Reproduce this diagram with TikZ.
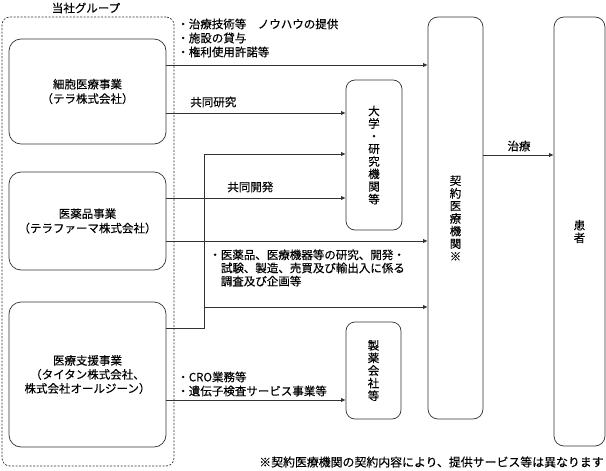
\documentclass[tikz,border=0pt]{standalone}
\usepackage{fontspec}
\setmainfont{Noto Sans CJK JP}[FakeBold=0.3]
\usetikzlibrary{arrows.meta}
\newcommand\bizfont{\fontsize{11.5}{14.5}\selectfont}
\newcommand\tatefont{\fontsize{11.5}{12.6}\selectfont}
\tikzstyle{biz} = [draw=black!80, rounded corners=12pt, minimum width=157pt, align=center, font=\bizfont]
\tikzstyle{tall} = [draw=black!80, rounded corners=9pt, align=center, inner sep=0pt, font=\tatefont]
\tikzstyle{grp} = [draw=black!80, rounded corners=8pt, dash pattern=on 2pt off 1.5pt, minimum width=172pt, minimum height=449pt]
\tikzstyle{lbl} = [anchor=west, align=left, inner sep=0pt, font=\bizfont]
\tikzstyle{arrow} = [draw=black!80, -{Latex[length=1.6mm,width=1.5mm]}]

\begin{document}
\begin{tikzpicture}[x=1pt, y=-1pt, line width=0.7pt]
	\useasboundingbox (0,0) rectangle (606,471);

	% group and its companies
	\node[grp] (group) at (88,241.5) {};
	\node[font=\bizfont] (grouplbl) at (86,8) {当社グループ};
	\node[biz, minimum height=105pt] (cell) at (87.5,91.5) {細胞医療事業\\（テラ株式会社）};
	\node[biz, minimum height=98pt] (pharma) at (87.5,221) {医薬品事業\\（テラファーマ株式会社）};
	\node[biz, minimum height=145pt, font=\fontsize{11.5}{14}\selectfont] (support) at (87.5,374.5) {医療支援事業\\（タイタン株式会社、\\株式会社オールジーン）};

	% partners
	\node[tall, minimum width=56pt, minimum height=150pt] (univ) at (374,155) {大\\学\\・\\研\\究\\機\\関\\等};
	\node[tall, minimum width=55pt, minimum height=97pt] (maker) at (373.5,370.5) {製\\薬\\会\\社\\等};
	\node[tall, rounded corners=10pt, minimum width=55pt, minimum height=402pt] (clinic) at (455.5,218) {契\\約\\医\\療\\機\\関\\※};
	\node[tall, rounded corners=10pt, minimum width=51pt, minimum height=429pt] (patient) at (579.5,231.5) {患\\者};

	% arrows
	\draw[arrow] (cell.east |- 0,65) -- (clinic.west |- 0,65);
	\draw[arrow] (cell.east |- 0,113) -- (univ.west |- 0,113);
	\draw[arrow] (pharma.east |- 0,198) -- (univ.west |- 0,198);
	\draw[arrow] (pharma.east |- 0,241) -- (clinic.west |- 0,241);
	\coordinate (jtop) at (204,154);
	\coordinate (jmid) at (204,307);
	\draw[arrow] (support.east |- 0,328) -| (jtop) -- (univ.west |- jtop);
	\draw[arrow] (jmid) -- (clinic.west |- jmid);
	\draw[arrow] (support.east |- 0,400) -- (maker.west |- 0,400);
	\draw[arrow] (clinic.east |- 0,155) -- (patient.west |- 0,155);

	% labels
	\node[lbl, font=\fontsize{11.5}{14}\selectfont] (know) at (177,38) {・治療技術等　ノウハウの提供\\・施設の貸与\\・権利使用許諾等};
	\node[lbl] (kenkyu) at (190,102) {共同研究};
	\node[lbl] (kaihatsu) at (227,187) {共同開発};
	\node[lbl, font=\fontsize{11.5}{13.2}\selectfont] (drug) at (209,268) {・医薬品、医療機器等の研究、開発・\\\hspace*{1em}試験、製造、売買及び輸出入に係る\\\hspace*{1em}調査及び企画等};
	\node[lbl, font=\fontsize{11.5}{14}\selectfont] (cro) at (177,384) {・CRO業務等\\・遺伝子検査サービス事業等};
	\node[font=\bizfont] (chiryo) at (519,146) {治療};
	\node[anchor=east, inner sep=0pt, font=\fontsize{11.9}{14}\selectfont] (note) at (604,462) {※契約医療機関の契約内容により、提供サービス等は異なります};
\end{tikzpicture}
\end{document}
